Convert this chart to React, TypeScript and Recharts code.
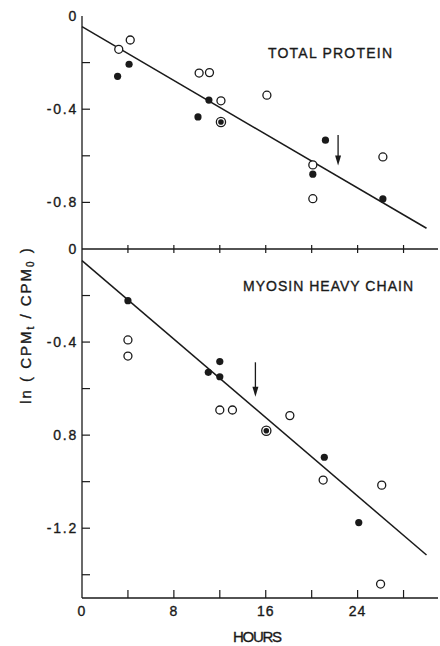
import React from 'react';
import { ScatterChart, Scatter, XAxis, YAxis, ReferenceLine } from 'recharts';

const INK = '#1a1a1a';
const FONT = '"Liberation Sans", Arial, sans-serif';

// hours axis
const hourTicks = [0, 4, 8, 12, 16, 20, 24, 28];
const hourLabels = [0, 8, 16, 24];

// total protein panel
const tpTicks = [0, -0.2, -0.4, -0.6, -0.8, -1.0];
const tpTickLabels: Record<string, string> = { '0': '0', '-0.4': '-0.4', '-0.8': '-0.8', '-1': '0' };
const tpOpen = [
  { x: 3.2, y: -0.143 }, { x: 4.2, y: -0.103 }, { x: 10.2, y: -0.245 }, { x: 11.1, y: -0.243 },
  { x: 12.1, y: -0.364 }, { x: 16.1, y: -0.34 }, { x: 20.1, y: -0.639 }, { x: 20.1, y: -0.784 },
  { x: 26.2, y: -0.605 },
];
const tpFilled = [
  { x: 3.1, y: -0.259 }, { x: 4.1, y: -0.207 }, { x: 10.1, y: -0.433 }, { x: 11.05, y: -0.361 },
  { x: 20.1, y: -0.679 }, { x: 21.2, y: -0.533 }, { x: 26.2, y: -0.785 },
];
const tpBoth = [{ x: 12.1, y: -0.455 }];
const tpFit = [{ x: 0, y: -0.046 }, { x: 30.0, y: -0.911 }];
const tpArrow = [{ x: 22.3, y: -0.511 }, { x: 22.3, y: -0.642 }];

// myosin heavy chain panel
const mhcTicks = [0, -0.2, -0.4, -0.6, -0.8, -1.0, -1.2, -1.4];
const mhcTickLabels: Record<string, string> = { '-0.4': '-0.4', '-0.8': '0.8', '-1.2': '-1.2' };
const mhcOpen = [
  { x: 4.0, y: -0.391 }, { x: 4.0, y: -0.46 }, { x: 12.0, y: -0.692 }, { x: 13.1, y: -0.692 },
  { x: 18.1, y: -0.716 }, { x: 21.0, y: -0.993 }, { x: 26.1, y: -1.015 }, { x: 26.0, y: -1.44 },
];
const mhcFilled = [
  { x: 4.0, y: -0.222 }, { x: 11.0, y: -0.53 }, { x: 12.0, y: -0.484 }, { x: 12.0, y: -0.549 },
  { x: 21.1, y: -0.895 }, { x: 24.1, y: -1.176 },
];
const mhcBoth = [{ x: 16.05, y: -0.781 }];
const mhcFit = [{ x: 0, y: -0.05 }, { x: 30.0, y: -1.315 }];
const mhcArrow = [{ x: 15.1, y: -0.487 }, { x: 15.1, y: -0.635 }];

const OpenDot = (p: any) => (
  <circle cx={p.cx} cy={p.cy} r={4} fill="#fff" stroke={INK} strokeWidth={1.3} />
);
const FilledDot = (p: any) => <circle cx={p.cx} cy={p.cy} r={3.6} fill={INK} />;
const BothDot = (p: any) => (
  <g>
    <circle cx={p.cx} cy={p.cy} r={4.6} fill="#fff" stroke={INK} strokeWidth={1.3} />
    <circle cx={p.cx} cy={p.cy} r={2.8} fill={INK} />
  </g>
);
const NoDot = () => <g />;

const Arrow = (p: any) => {
  const x = p.x1;
  const top = Math.min(p.y1, p.y2);
  const bot = Math.max(p.y1, p.y2);
  return (
    <g>
      <line x1={x} y1={top} x2={x} y2={bot - 6} stroke={INK} strokeWidth={1.3} />
      <path d={`M${x - 3},${bot - 10} L${x + 3},${bot - 10} L${x},${bot} Z`} fill={INK} />
    </g>
  );
};

// scanned lettering is heavy, so give the glyphs a thin outline
const labelStyle = {
  fontFamily: FONT, fontSize: 14, fill: INK, stroke: INK, strokeWidth: 0.35, letterSpacing: 1.8,
};

function yTick(labels: Record<string, string>, marks: number[]) {
  return (p: any) => {
    const v = p.payload.value;
    const key = String(Math.round(v * 10) / 10);
    const showMark = marks.some((m) => Math.abs(m - v) < 1e-6);
    return (
      <g>
        {showMark && <line x1={p.x} y1={p.y} x2={p.x + 8} y2={p.y} stroke={INK} strokeWidth={1.2} />}
        {labels[key] !== undefined && (
          <text x={p.x - 4} y={p.y} textAnchor="end" dominantBaseline="central" style={labelStyle}>
            {labels[key]}
          </text>
        )}
      </g>
    );
  };
}

const crossTick = (p: any) => {
  if (p.payload.value === 0) return <g />;
  return <line x1={p.x} y1={p.y - 4} x2={p.x} y2={p.y + 4} stroke={INK} strokeWidth={1.2} />;
};

const bottomTick = (p: any) => {
  const v = p.payload.value;
  return (
    <g>
      {v !== 0 && <line x1={p.x} y1={p.y} x2={p.x} y2={p.y - 8} stroke={INK} strokeWidth={1.2} />}
      {hourLabels.includes(v) && (
        <text x={p.x} y={p.y + 13} textAnchor="middle" dominantBaseline="central" style={{ ...labelStyle, letterSpacing: 1 }}>
          {v}
        </text>
      )}
    </g>
  );
};

export default function App() {
  return (
    <div style={{ position: 'absolute', left: 0, top: 0, width: 440, height: 646, background: '#fff' }}>
      <div style={{ position: 'absolute', left: 0, top: 0 }}>
        <ScatterChart width={440} height={260} margin={{ top: 16, right: 2, bottom: 0, left: 0 }}>
          <XAxis
            type="number" dataKey="x" domain={[0, 31]} ticks={hourTicks} interval={0}
            height={11} tickSize={0} tickMargin={0} tickLine={false}
            axisLine={{ stroke: INK, strokeWidth: 1.3 }} tick={crossTick}
          />
          <YAxis
            type="number" dataKey="y" domain={[-1, 0]} ticks={tpTicks} interval={0}
            width={82} tickSize={0} tickMargin={0} tickLine={false} allowDataOverflow
            axisLine={{ stroke: INK, strokeWidth: 1.3 }}
            tick={yTick(tpTickLabels, [-0.2, -0.4, -0.6, -0.8])}
          />
          <Scatter data={tpFit} line={{ stroke: INK, strokeWidth: 1.5 }} shape={NoDot} isAnimationActive={false} />
          <Scatter data={tpOpen} shape={OpenDot} isAnimationActive={false} />
          <Scatter data={tpFilled} shape={FilledDot} isAnimationActive={false} />
          <Scatter data={tpBoth} shape={BothDot} isAnimationActive={false} />
          <ReferenceLine segment={tpArrow} shape={Arrow} ifOverflow="visible" />
        </ScatterChart>
      </div>
      <div style={{ position: 'absolute', left: 0, top: 240 }}>
        <ScatterChart width={440} height={406} margin={{ top: 9, right: 2, bottom: 0, left: 0 }}>
          <XAxis
            type="number" dataKey="x" domain={[0, 31]} ticks={hourTicks} interval={0}
            height={48} tickSize={0} tickMargin={0} tickLine={false}
            axisLine={{ stroke: INK, strokeWidth: 1.3 }} tick={bottomTick}
          />
          <YAxis
            type="number" dataKey="y" domain={[-1.5, 0]} ticks={mhcTicks} interval={0}
            width={82} tickSize={0} tickMargin={0} tickLine={false} allowDataOverflow
            axisLine={{ stroke: INK, strokeWidth: 1.3 }}
            tick={yTick(mhcTickLabels, [-0.2, -0.4, -0.6, -0.8, -1.0, -1.2, -1.4])}
          />
          <Scatter data={mhcFit} line={{ stroke: INK, strokeWidth: 1.5 }} shape={NoDot} isAnimationActive={false} />
          <Scatter data={mhcOpen} shape={OpenDot} isAnimationActive={false} />
          <Scatter data={mhcFilled} shape={FilledDot} isAnimationActive={false} />
          <Scatter data={mhcBoth} shape={BothDot} isAnimationActive={false} />
          <ReferenceLine segment={mhcArrow} shape={Arrow} ifOverflow="visible" />
        </ScatterChart>
      </div>
      <svg width={440} height={646} style={{ position: 'absolute', left: 0, top: 0, pointerEvents: 'none' }}>
        <text x={268} y={58} textLength={124} lengthAdjust="spacing" style={{ ...labelStyle, letterSpacing: 0 }}>
          TOTAL PROTEIN
        </text>
        <text x={243} y={291} textLength={170} lengthAdjust="spacing" style={{ ...labelStyle, letterSpacing: 0 }}>
          MYOSIN HEAVY CHAIN
        </text>
        <text x={233} y={642} textLength={49} lengthAdjust="spacing" style={{ ...labelStyle, fontSize: 15, letterSpacing: 0 }}>
          HOURS
        </text>
        <text
          transform="translate(31,325) rotate(-90)" textAnchor="middle"
          style={{ ...labelStyle, fontSize: 15, letterSpacing: 2 }}
        >
          ln ( CPM<tspan fontSize={10} dy={3}>t</tspan>
          <tspan dy={-3}> / CPM</tspan>
          <tspan fontSize={10} dy={3}>0</tspan>
          <tspan dy={-3}> )</tspan>
        </text>
      </svg>
    </div>
  );
}
